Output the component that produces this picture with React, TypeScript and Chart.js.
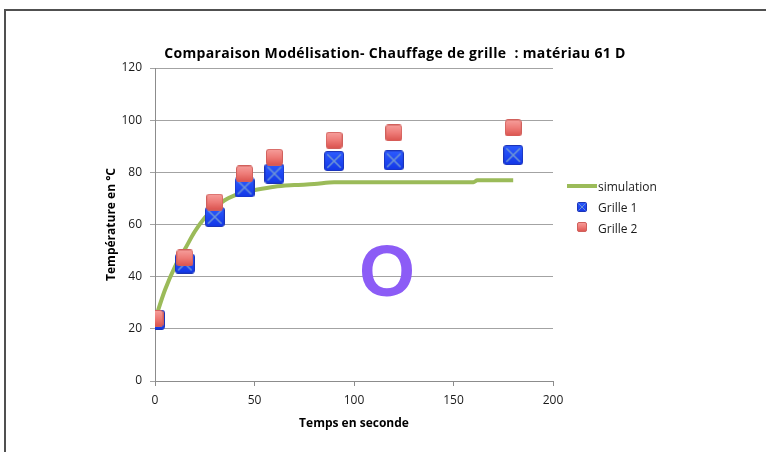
import React, { useEffect, useRef } from "react";
import { Chart, registerables } from "chart.js";
Chart.register(...registerables);

const FONT = "'Open Sans', Lato, sans-serif";

const chartTitle = "Comparaison Modélisation- Chauffage de grille  : matériau 61 D";
const xTitle = "Temps en seconde";
const yTitle = "Température en °C";
const seriesNames = ["simulation", "Grille 1", "Grille 2"];

const grilleTimes = [0, 15, 30, 45, 60, 90, 120, 180];
const grille1Temps = [23.5, 45, 62.9, 74.2, 79.5, 84.3, 84.6, 86.6];
const grille2Temps = [24, 47.2, 68.6, 79.4, 85.8, 92.3, 95.1, 97];

const simTimes = [0, 5, 10, 15, 20, 25, 30, 35, 40, 45, 50, 60, 70, 80, 90, 160, 162, 180];
const simTemps = [23.5, 34.9, 43.8, 50.5, 57.3, 62.6, 66.4, 69.3, 71.2, 72.4, 73.2, 74.5, 75.1, 75.5, 76.2, 76.2, 77, 77];

const xTicks = [0, 50, 100, 150, 200];
const yTicks = [0, 20, 40, 60, 80, 100, 120];

function makeBlue(size: number) {
  const c = document.createElement("canvas");
  c.width = size;
  c.height = size;
  const g = c.getContext("2d")!;
  const grad = g.createLinearGradient(0, 0, 0, size);
  grad.addColorStop(0, "#2d5cff");
  grad.addColorStop(1, "#1236e6");
  g.fillStyle = grad;
  g.beginPath();
  (g as any).roundRect(0.5, 0.5, size - 1, size - 1, size * 0.12);
  g.fill();
  g.strokeStyle = "#1b34b8";
  g.lineWidth = 1;
  g.stroke();
  g.strokeStyle = "#6c93d6";
  g.lineWidth = Math.max(1, size * 0.08);
  const m = size * 0.16;
  g.beginPath();
  g.moveTo(m, m);
  g.lineTo(size - m, size - m);
  g.moveTo(size - m, m);
  g.lineTo(m, size - m);
  g.stroke();
  return c;
}

function makeRed(size: number) {
  const c = document.createElement("canvas");
  c.width = size;
  c.height = size;
  const g = c.getContext("2d")!;
  const grad = g.createLinearGradient(0, 0, 0, size);
  grad.addColorStop(0, "#f7a19e");
  grad.addColorStop(0.5, "#ee7b77");
  grad.addColorStop(1, "#d9504b");
  g.fillStyle = grad;
  g.beginPath();
  (g as any).roundRect(0.5, 0.5, size - 1, size - 1, size * 0.15);
  g.fill();
  g.strokeStyle = "#d0605c";
  g.lineWidth = 1;
  g.stroke();
  return c;
}

export default function App() {
  const ref = useRef<HTMLCanvasElement>(null);

  useEffect(() => {
    const blue = makeBlue(20);
    const red = makeRed(17);
    const blueSmall = makeBlue(10);
    const redSmall = makeRed(10);

    const legendPlugin = {
      id: "customLegend",
      afterDraw(chart: any) {
        const ctx = chart.ctx;
        ctx.save();
        ctx.strokeStyle = "#9BBB59";
        ctx.lineWidth = 4;
        ctx.beginPath();
        ctx.moveTo(567, 186);
        ctx.lineTo(597, 186);
        ctx.stroke();
        ctx.drawImage(blueSmall, 577, 202);
        ctx.drawImage(redSmall, 577, 222);
        ctx.fillStyle = "#1a1a1a";
        ctx.font = `12px ${FONT}`;
        ctx.textBaseline = "middle";
        ctx.textAlign = "left";
        ctx.fillText(seriesNames[0], 598, 188);
        ctx.fillText(seriesNames[1], 598, 209);
        ctx.fillText(seriesNames[2], 598, 230);
        ctx.restore();
      },
    };

    const chart = new Chart(ref.current!, {
      type: "scatter",
      data: {
        datasets: [
          {
            label: seriesNames[0],
            data: simTimes.map((x, i) => ({ x, y: simTemps[i] })),
            showLine: true,
            borderColor: "#9BBB59",
            backgroundColor: "#9BBB59",
            borderWidth: 4,
            pointRadius: 0,
            pointHoverRadius: 0,
            cubicInterpolationMode: "monotone",
            fill: false,
            order: 3,
          } as any,
          {
            label: seriesNames[1],
            data: grilleTimes.map((x, i) => ({ x, y: grille1Temps[i] })),
            pointStyle: blue,
            pointRadius: 10,
            order: 2,
          } as any,
          {
            label: seriesNames[2],
            data: grilleTimes.map((x, i) => ({ x, y: grille2Temps[i] })),
            pointStyle: red,
            pointRadius: 8,
            order: 1,
          } as any,
        ],
      },
      options: {
        responsive: false,
        animation: false,
        events: [],
        layout: { padding: { left: 93, right: 213, top: 68, bottom: 0 } },
        plugins: {
          legend: { display: false },
          title: { display: false },
          tooltip: { enabled: false },
        },
        scales: {
          x: {
            type: "linear",
            position: "bottom",
            min: 0,
            max: 200,
            afterBuildTicks: (s: any) => {
              s.ticks = xTicks.map((v) => ({ value: v }));
            },
            ticks: {
              padding: 7,
              color: "#1a1a1a",
              font: { family: FONT, size: 12 },
              maxRotation: 0,
            },
            grid: { drawOnChartArea: false, drawTicks: true, tickLength: 5, color: "#8c8c8c" },
            border: { color: "#8c8c8c", width: 1 },
            title: {
              display: true,
              text: xTitle,
              color: "#000",
              font: { family: FONT, size: 12, weight: "bold" },
              padding: { top: 0, bottom: 21 },
            },
            afterFit: (s: any) => {
              s.height = 71;
            },
          } as any,
          y: {
            type: "linear",
            min: 0,
            max: 120,
            afterBuildTicks: (s: any) => {
              s.ticks = yTicks.map((v) => ({ value: v }));
            },
            ticks: {
              padding: 8,
              color: "#1a1a1a",
              font: { family: FONT, size: 12 },
            },
            grid: { color: "#a3a3a3", tickLength: 5, lineWidth: 1 },
            border: { color: "#8c8c8c", width: 1 },
            title: {
              display: true,
              text: yTitle,
              color: "#000",
              font: { family: FONT, size: 12, weight: "bold" },
              padding: { top: 11, bottom: 0 },
            },
            afterFit: (s: any) => {
              s.width = 62;
            },
          } as any,
        },
      },
      plugins: [legendPlugin],
    });
    return () => chart.destroy();
  }, []);

  return (
    <div
      style={{
        position: "fixed",
        left: 0,
        top: 0,
        width: 766,
        height: 452,
        background: "#fff",
        overflow: "hidden",
      }}
    >
      <canvas ref={ref} width={766} height={452} style={{ position: "absolute", left: 0, top: 0 }} />
      <div
        style={{
          position: "absolute",
          left: 4,
          top: 9,
          width: 800,
          height: 500,
          borderTop: "2px solid #505050",
          borderLeft: "2px solid #505050",
          pointerEvents: "none",
        }}
      />
      <div
        style={{
          position: "absolute",
          left: 395,
          top: 53,
          transform: "translate(-50%, -50%)",
          whiteSpace: "pre",
          font: `bold 14px ${FONT}`,
          letterSpacing: "0.35px",
          lineHeight: "16px",
          color: "#000",
        }}
      >
        {chartTitle}
      </div>
      <div
        style={{
          position: "absolute",
          left: 387,
          top: 271,
          transform: "translate(-50%, -50%)",
          font: "bold 72px 'Liberation Sans', Arial, sans-serif",
          lineHeight: "72px",
          color: "#8C5CF6",
        }}
      >
        O
      </div>
    </div>
  );
}
